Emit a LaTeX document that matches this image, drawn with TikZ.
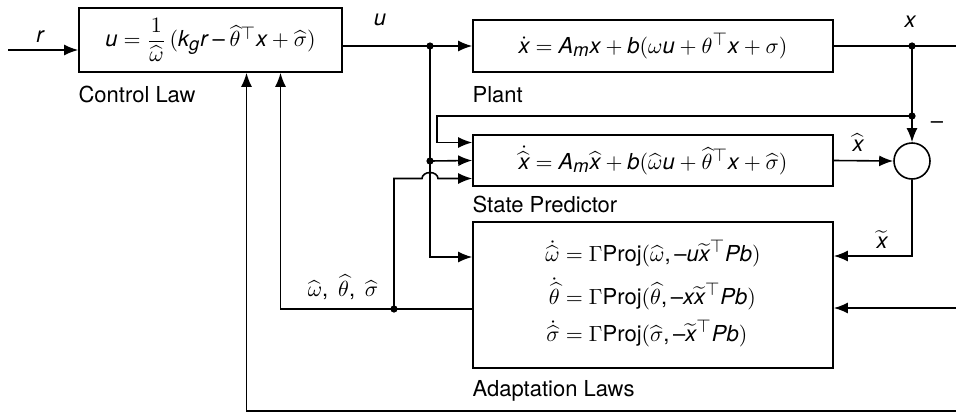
\documentclass[tikz,border=0pt]{standalone}
\usepackage{amsmath}
\usepackage{fontspec}
\setmainfont{TeX Gyre Heros}
\usepackage[italic]{mathastext}
\usetikzlibrary{arrows.meta,positioning}

\begin{document}
\begin{tikzpicture}[
    x=0.5pt, y=0.5pt,
    >=Latex,
    every node/.style={font=\fontsize{11}{13}\selectfont},
    block/.style={draw, line width=0.8pt, inner sep=0pt, align=center},
    note/.style={inner sep=0pt, anchor=west},
    tag/.style={inner sep=0pt},
    wire/.style={line width=0.8pt},
    arrow/.style={-{Latex[length=7pt,width=5.5pt]}, line width=0.8pt},
    joint/.style={circle, fill, inner sep=0pt, minimum size=3.6pt}
]
\useasboundingbox (0,0) rectangle (956,-413);

% blocks
\node[block, minimum width=131.5pt, minimum height=32pt] (law) at (210.5,-40)
    {$u = \dfrac{1}{\widehat{\omega}}\,(k_g r - \widehat{\theta}^{\top} x + \widehat{\sigma})$};
\node[block, minimum width=180pt, minimum height=26pt] (plant) at (653,-46)
    {$\dot{x} = A_m x + b(\omega u + \theta^{\top} x + \sigma)$};
\node[block, minimum width=180pt, minimum height=25.5pt] (pred) at (653,-160.5)
    {$\dot{\widehat{x}} = A_m\widehat{x} + b(\widehat{\omega} u + \widehat{\theta}^{\top} x + \widehat{\sigma})$};
\node[block, minimum width=180pt, minimum height=73pt] (adapt) at (653,-295)
    {$\begin{aligned}
      \dot{\widehat{\omega}} &= \Gamma\textup{Proj}(\widehat{\omega}, -u\widetilde{x}^{\top} Pb)\\
      \dot{\widehat{\theta}} &= \Gamma\textup{Proj}(\widehat{\theta}, -x\widetilde{x}^{\top} Pb)\\
      \dot{\widehat{\sigma}} &= \Gamma\textup{Proj}(\widehat{\sigma}, -\widetilde{x}^{\top} Pb)
    \end{aligned}$};
\node[draw, circle, line width=0.8pt, minimum size=18pt, inner sep=0pt] (sum) at (912,-161) {};

% block names
\node[note] (lawname) at ([yshift=-11pt]law.south west) {Control Law};
\node[note] (plantname) at ([yshift=-11pt]plant.south west) {Plant};
\node[note] (predname) at ([yshift=-9pt]pred.south west) {State Predictor};
\node[note] (adaptname) at ([yshift=-11pt]adapt.south west) {Adaptation Laws};

% signal names
\node[tag] (rname) at (40,-37) {$r$};
\node[tag] (uname) at (380,-20) {$u$};
\node[tag] (xname) at (910,-22) {$x$};
\node[tag] (xhname) at (858,-143) {$\widehat{x}$};
\node[tag] (minus) at (937,-125) {$-$};
\node[tag] (xtname) at (882,-240) {$\widetilde{x}$};
\node[tag] (parname) at (343,-287) {$\widehat{\omega},\ \widehat{\theta},\ \widehat{\sigma}$};

% branch points and free ends
\coordinate (rin) at (8,-50);
\coordinate (uj) at (430,-46);
\coordinate (uj2) at (430,-161);
\coordinate (xj) at (912,-46);
\coordinate (xj2) at (912,-116);
\coordinate (pj) at (394,-309);
\coordinate (xout) at (956,-46);
\coordinate (xin) at (956,-308);
\coordinate (xbot) at (956,-411);
\path (uj |- pred.west) ++(0,-18) coordinate (hop);

% connectors
\draw[arrow] (rin) -- (rin -| law.west);
\draw[wire] (law.east |- uj) -- (uj);
\draw[arrow] (uj) -- (plant.west);
\draw[wire] (plant.east) -- (xout);
\draw[wire] (xj) -- (xj2);
\draw[arrow] (xj2) -- (sum.north);
\draw[arrow] (xj2) -| ([shift={(-17.5pt,9pt)}]pred.west) -- ([yshift=9pt]pred.west);
\draw[wire] (uj) -- (uj2);
\draw[arrow] (uj2) -- (pred.west);
\draw[arrow] (uj2) |- ([yshift=19pt]adapt.west);
\draw[arrow] (pred.east) -- (sum.west);
\draw[arrow] (sum.south) |- ([yshift=19.5pt]adapt.east);
\draw[arrow] (xin) -- (xin -| adapt.east);
\draw[wire] ([yshift=-7pt]adapt.west) -- (pj);
\draw[arrow] (pj) -| ([xshift=35pt]law.south);
\draw[arrow] (pj) |- ([xshift=-4pt]hop)
    arc[start angle=180, end angle=0, x radius=4pt, y radius=3pt]
    -- (hop -| pred.west);
\draw[arrow] (xbot) -| ([xshift=18pt]law.south);

\node[joint] (d1) at (uj) {};
\node[joint] (d2) at (uj2) {};
\node[joint] (d3) at (xj) {};
\node[joint] (d4) at (xj2) {};
\node[joint] (d5) at (pj) {};
\end{tikzpicture}
\end{document}
